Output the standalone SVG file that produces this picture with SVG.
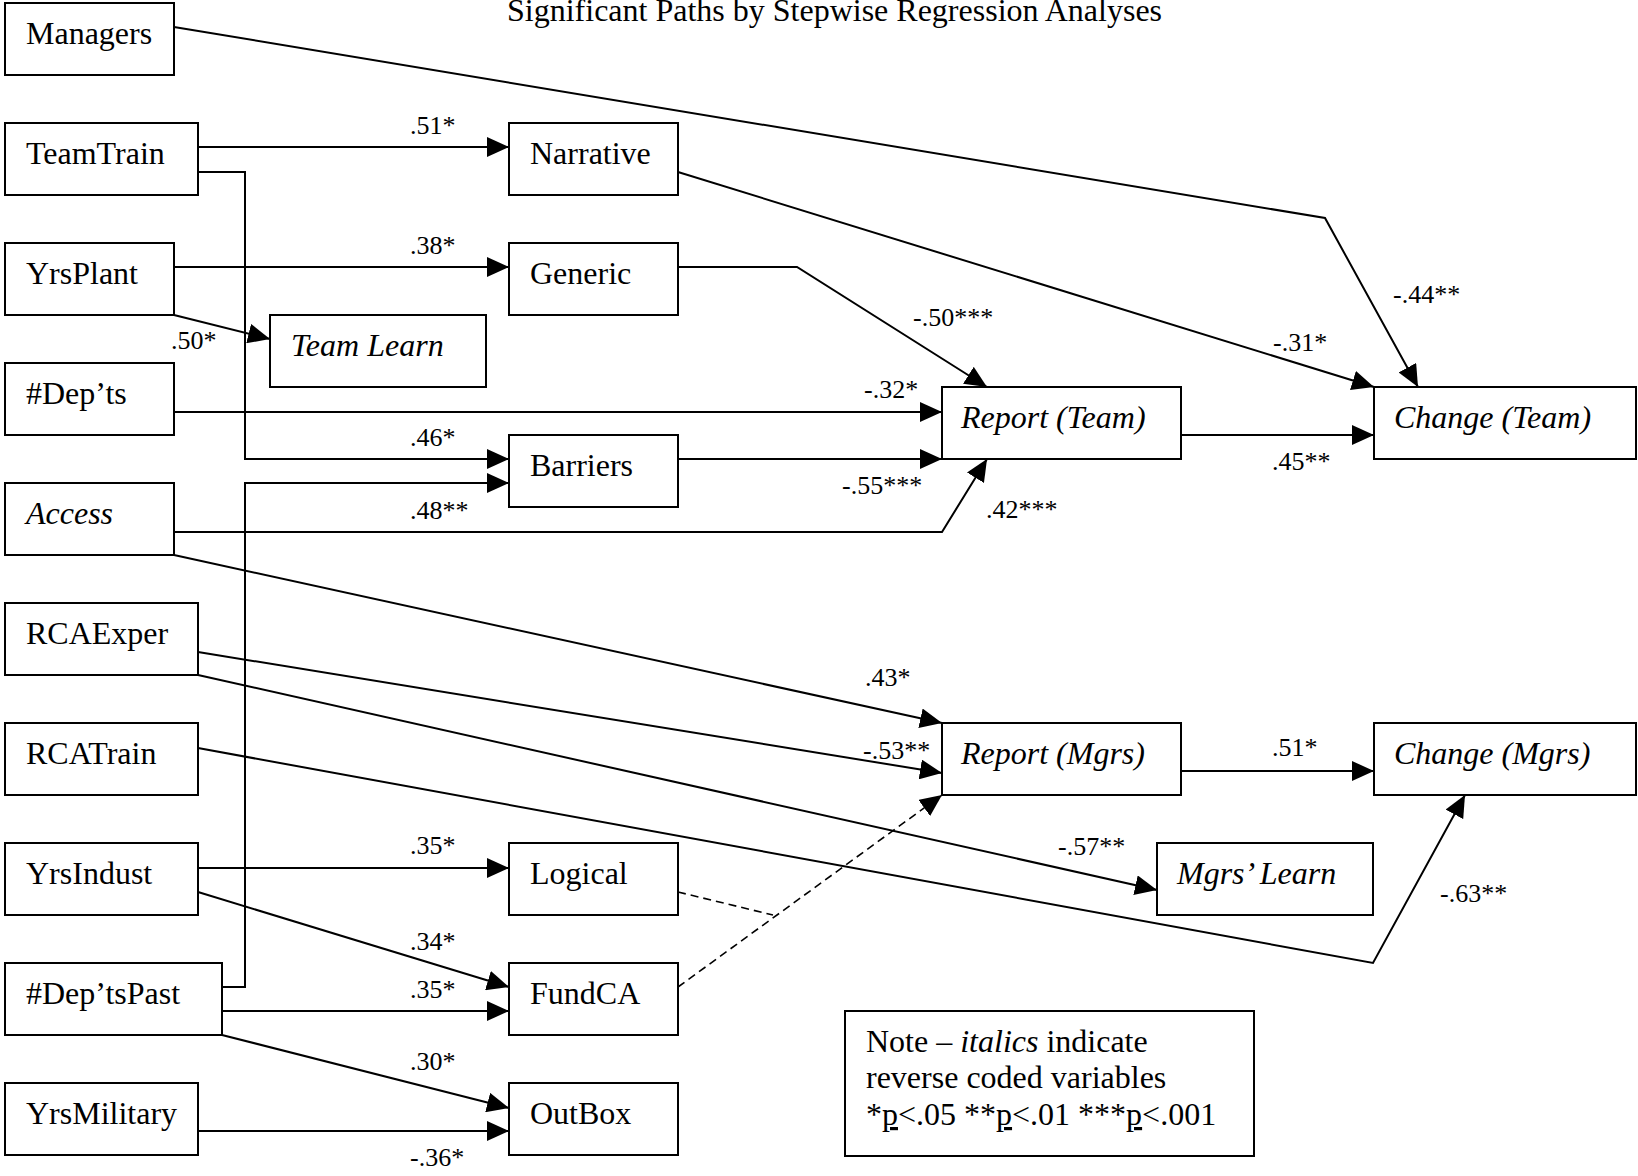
<svg xmlns="http://www.w3.org/2000/svg" width="1638" height="1176" viewBox="0 0 1638 1176">
<style>
.box{fill:#fff;stroke:#000;stroke-width:2}
.lbl{font-family:"Liberation Serif","Times New Roman",serif;font-size:32px;fill:#000}
.it{font-style:italic}
.el{font-family:"Liberation Serif","Times New Roman",serif;font-size:26px;fill:#000}
.c{fill:none;stroke:#000;stroke-width:2;marker-end:url(#ah)}
.d{fill:none;stroke:#000;stroke-width:1.6;stroke-dasharray:8,5}
</style>
<defs>
<marker id="ah" markerUnits="userSpaceOnUse" markerWidth="22" markerHeight="20" refX="22" refY="10" orient="auto">
<path d="M0,0 L22,10 L0,20 z" fill="#000"/>
</marker>
</defs>
<rect width="1638" height="1176" fill="#fff"/>
<text class="lbl" x="507" y="21">Significant Paths by Stepwise Regression Analyses</text>

<g id="connectors">
<path class="c" d="M198,147 H509"/>
<path class="c" d="M198,172 H245 V459 H509"/>
<path class="c" d="M174,267 H509"/>
<path class="c" d="M174,315 L270,339"/>
<path class="c" d="M174,412 H942"/>
<path class="c" d="M678,459 H942"/>
<path class="c" d="M222,987 H245 V483 H509"/>
<path class="c" d="M174,532 H942 L987,459"/>
<path class="c" d="M678,267 H797 L987,387"/>
<path class="c" d="M678,172 L1374,387"/>
<path class="c" d="M174,27 L1325,218 L1418,387"/>
<path class="c" d="M1181,435 H1374"/>
<path class="c" d="M174,555 L942,723"/>
<path class="c" d="M198,652 L942,773"/>
<path class="c" d="M198,675 L1157,890"/>
<path class="c" d="M198,748 L1373,963 L1465,795"/>
<path class="c" d="M1181,771 H1374"/>
<path class="c" d="M198,868 H509"/>
<path class="c" d="M198,892 L509,987"/>
<path class="c" d="M222,1011 H509"/>
<path class="c" d="M222,1035 L509,1108"/>
<path class="c" d="M198,1131 H509"/>
<path class="d" d="M678,987 L942,795" marker-end="url(#ah)"/>
<path class="d" d="M678,892 L773,915"/>
<g class="el">
<text x="410" y="134">.51*</text>
<text x="410" y="254">.38*</text>
<text x="171" y="349">.50*</text>
<text x="864" y="398">-.32*</text>
<text x="410" y="446">.46*</text>
<text x="410" y="519">.48**</text>
<text x="842" y="494">-.55***</text>
<text x="986" y="518">.42***</text>
<text x="913" y="326">-.50***</text>
<text x="1273" y="351">-.31*</text>
<text x="1393" y="303">-.44**</text>
<text x="1272" y="470">.45**</text>
<text x="865" y="686">.43*</text>
<text x="863" y="759">-.53**</text>
<text x="1272" y="756">.51*</text>
<text x="1058" y="855">-.57**</text>
<text x="1440" y="902">-.63**</text>
<text x="410" y="854">.35*</text>
<text x="410" y="950">.34*</text>
<text x="410" y="998">.35*</text>
<text x="410" y="1070">.30*</text>
<text x="410" y="1166">-.36*</text>
</g>
</g>

<g id="managers"><rect class="box" x="5" y="3" width="169" height="72"/><text class="lbl" x="26" y="44">Managers</text></g>
<g id="teamtrain"><rect class="box" x="5" y="123" width="193" height="72"/><text class="lbl" x="26" y="164">TeamTrain</text></g>
<g id="yrsplant"><rect class="box" x="5" y="243" width="169" height="72"/><text class="lbl" x="26" y="284">YrsPlant</text></g>
<g id="depts"><rect class="box" x="5" y="363" width="169" height="72"/><text class="lbl" x="26" y="404">#Dep’ts</text></g>
<g id="access"><rect class="box" x="5" y="483" width="169" height="72"/><text class="lbl it" x="26" y="524">Access</text></g>
<g id="rcaexper"><rect class="box" x="5" y="603" width="193" height="72"/><text class="lbl" x="26" y="644">RCAExper</text></g>
<g id="rcatrain"><rect class="box" x="5" y="723" width="193" height="72"/><text class="lbl" x="26" y="764">RCATrain</text></g>
<g id="yrsindust"><rect class="box" x="5" y="843" width="193" height="72"/><text class="lbl" x="26" y="884">YrsIndust</text></g>
<g id="deptspast"><rect class="box" x="5" y="963" width="217" height="72"/><text class="lbl" x="26" y="1004">#Dep’tsPast</text></g>
<g id="yrsmilitary"><rect class="box" x="5" y="1083" width="193" height="72"/><text class="lbl" x="26" y="1124">YrsMilitary</text></g>

<g id="narrative"><rect class="box" x="509" y="123" width="169" height="72"/><text class="lbl" x="530" y="164">Narrative</text></g>
<g id="generic"><rect class="box" x="509" y="243" width="169" height="72"/><text class="lbl" x="530" y="284">Generic</text></g>
<g id="teamlearn"><rect class="box" x="270" y="315" width="216" height="72"/><text class="lbl it" x="291" y="356">Team Learn</text></g>
<g id="barriers"><rect class="box" x="509" y="435" width="169" height="72"/><text class="lbl" x="530" y="476">Barriers</text></g>
<g id="logical"><rect class="box" x="509" y="843" width="169" height="72"/><text class="lbl" x="530" y="884">Logical</text></g>
<g id="fundca"><rect class="box" x="509" y="963" width="169" height="72"/><text class="lbl" x="530" y="1004">FundCA</text></g>
<g id="outbox"><rect class="box" x="509" y="1083" width="169" height="72"/><text class="lbl" x="530" y="1124">OutBox</text></g>

<g id="reportteam"><rect class="box" x="942" y="387" width="239" height="72"/><text class="lbl it" x="961" y="428">Report (Team)</text></g>
<g id="changeteam"><rect class="box" x="1374" y="387" width="262" height="72"/><text class="lbl it" x="1394" y="428">Change (Team)</text></g>
<g id="reportmgrs"><rect class="box" x="942" y="723" width="239" height="72"/><text class="lbl it" x="961" y="764">Report (Mgrs)</text></g>
<g id="changemgrs"><rect class="box" x="1374" y="723" width="262" height="72"/><text class="lbl it" x="1394" y="764">Change (Mgrs)</text></g>
<g id="mgrslearn"><rect class="box" x="1157" y="843" width="216" height="72"/><text class="lbl it" x="1177" y="884">Mgrs’ Learn</text></g>

<g id="note"><rect class="box" x="845" y="1011" width="409" height="145"/>
<text class="lbl" x="866" y="1052">Note – <tspan class="it">italics</tspan> indicate</text>
<text class="lbl" x="866" y="1088">reverse coded variables</text>
<text class="lbl" x="866" y="1125">*<tspan text-decoration="underline">p</tspan>&lt;.05 **<tspan text-decoration="underline">p</tspan>&lt;.01 ***<tspan text-decoration="underline">p</tspan>&lt;.001</text>
</g>
</svg>
